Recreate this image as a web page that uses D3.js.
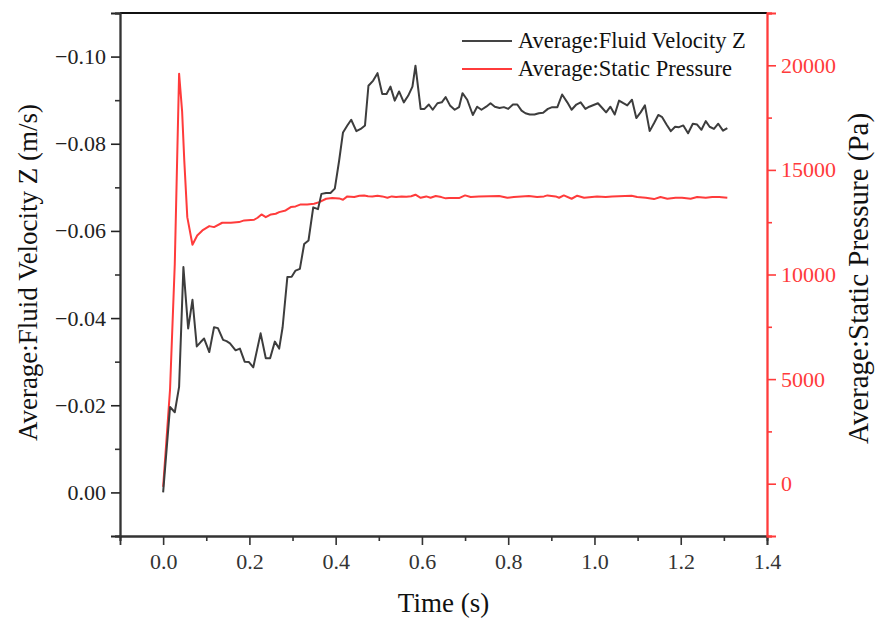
<!DOCTYPE html>
<html>
<head>
<meta charset="utf-8">
<script src="https://cdn.jsdelivr.net/npm/d3@7"></script>
<style>
  body { margin: 0; background: #fff; }
  svg text { font-family: "Liberation Serif", "Times New Roman", serif; }
</style>
</head>
<body>
<svg id="chart" width="875" height="620"></svg>
<script>
/*** DATA ***/
// Average:Fluid Velocity Z (m/s)
const velTime = [0.000, 0.016, 0.027, 0.037, 0.047, 0.058, 0.068, 0.078, 0.087, 0.095,
  0.107, 0.118, 0.127, 0.139, 0.147, 0.155, 0.168, 0.178, 0.189, 0.199,
  0.209, 0.226, 0.238, 0.248, 0.259, 0.269, 0.277, 0.288, 0.298, 0.307,
  0.317, 0.327, 0.337, 0.348, 0.359, 0.367, 0.378, 0.388, 0.398, 0.408,
  0.417, 0.427, 0.436, 0.448, 0.458, 0.468, 0.476, 0.487, 0.497, 0.508,
  0.518, 0.527, 0.537, 0.547, 0.558, 0.568, 0.578, 0.585, 0.597, 0.606,
  0.616, 0.625, 0.636, 0.646, 0.655, 0.665, 0.676, 0.686, 0.694, 0.705,
  0.718, 0.728, 0.738, 0.749, 0.759, 0.769, 0.780, 0.790, 0.800, 0.811,
  0.821, 0.831, 0.840, 0.850, 0.861, 0.871, 0.881, 0.892, 0.902, 0.914,
  0.925, 0.937, 0.947, 0.958, 0.968, 0.979, 0.988, 0.998, 1.008, 1.018,
  1.027, 1.037, 1.047, 1.057, 1.067, 1.076, 1.087, 1.097, 1.107, 1.117,
  1.128, 1.138, 1.148, 1.157, 1.167, 1.177, 1.187, 1.196, 1.206, 1.217,
  1.228, 1.238, 1.248, 1.258, 1.267, 1.277, 1.287, 1.298, 1.308];
const velocity = [0.0000, -0.0196, -0.0184, -0.0242, -0.0517, -0.0376, -0.0442, -0.0335, -0.0345, -0.0353,
  -0.0322, -0.0379, -0.0377, -0.0350, -0.0347, -0.0342, -0.0326, -0.0330, -0.0300, -0.0299,
  -0.0287, -0.0365, -0.0308, -0.0308, -0.0346, -0.0330, -0.0379, -0.0494, -0.0495, -0.0509,
  -0.0513, -0.0570, -0.0578, -0.0654, -0.0650, -0.0685, -0.0687, -0.0687, -0.0697, -0.0761,
  -0.0826, -0.0842, -0.0855, -0.0829, -0.0834, -0.0842, -0.0933, -0.0945, -0.0962, -0.0914,
  -0.0914, -0.0931, -0.0899, -0.0920, -0.0895, -0.0910, -0.0931, -0.0979, -0.0880, -0.0880,
  -0.0890, -0.0878, -0.0893, -0.0895, -0.0907, -0.0888, -0.0878, -0.0884, -0.0916, -0.0901,
  -0.0866, -0.0885, -0.0878, -0.0885, -0.0893, -0.0885, -0.0882, -0.0884, -0.0880, -0.0890,
  -0.0890, -0.0876, -0.0870, -0.0867, -0.0867, -0.0870, -0.0871, -0.0880, -0.0884, -0.0884,
  -0.0913, -0.0895, -0.0878, -0.0890, -0.0895, -0.0880, -0.0885, -0.0889, -0.0893, -0.0882,
  -0.0872, -0.0885, -0.0867, -0.0899, -0.0893, -0.0888, -0.0901, -0.0859, -0.0872, -0.0888,
  -0.0829, -0.0847, -0.0866, -0.0861, -0.0844, -0.0829, -0.0839, -0.0838, -0.0842, -0.0824,
  -0.0846, -0.0844, -0.0832, -0.0852, -0.0839, -0.0834, -0.0846, -0.0830, -0.0836];

// Average:Static Pressure (Pa)
const presTime = [0.000, 0.016, 0.027, 0.037, 0.044, 0.049, 0.056, 0.068, 0.079, 0.091,
  0.107, 0.118, 0.137, 0.157, 0.176, 0.188, 0.211, 0.219, 0.228, 0.238,
  0.250, 0.261, 0.269, 0.284, 0.296, 0.307, 0.319, 0.334, 0.350, 0.362,
  0.378, 0.392, 0.408, 0.417, 0.427, 0.443, 0.455, 0.466, 0.475, 0.485,
  0.497, 0.508, 0.520, 0.530, 0.540, 0.553, 0.564, 0.575, 0.585, 0.597,
  0.610, 0.620, 0.632, 0.645, 0.655, 0.663, 0.686, 0.700, 0.713, 0.732,
  0.779, 0.798, 0.813, 0.848, 0.867, 0.883, 0.891, 0.910, 0.918, 0.929,
  0.947, 0.960, 0.976, 1.006, 1.026, 1.041, 1.086, 1.099, 1.119, 1.138,
  1.153, 1.169, 1.188, 1.203, 1.223, 1.238, 1.258, 1.273, 1.289, 1.308];
const pressure = [-150, 4500, 10500, 19600, 17800, 15455, 12742, 11422, 11867, 12106,
  12313, 12265, 12474, 12474, 12505, 12585, 12617, 12713, 12872, 12742,
  12872, 12905, 12982, 13062, 13222, 13254, 13350, 13350, 13382, 13461,
  13621, 13652, 13637, 13573, 13733, 13700, 13760, 13781, 13740, 13733,
  13760, 13733, 13668, 13733, 13700, 13733, 13720, 13740, 13814, 13668,
  13733, 13668, 13750, 13700, 13640, 13653, 13653, 13781, 13701, 13733,
  13749, 13669, 13701, 13749, 13701, 13733, 13781, 13733, 13669, 13781,
  13621, 13765, 13669, 13733, 13701, 13733, 13765, 13701, 13669, 13605,
  13701, 13621, 13669, 13669, 13621, 13701, 13669, 13701, 13701, 13669];

// ticks
const xTicks = [0.0, 0.2, 0.4, 0.6, 0.8, 1.0, 1.2, 1.4];
const xMinor = [-0.1, 0.1, 0.3, 0.5, 0.7, 0.9, 1.1, 1.3];
const velTicks = [0.00, -0.02, -0.04, -0.06, -0.08, -0.10];
const velMinor = [0.01, -0.01, -0.03, -0.05, -0.07, -0.09, -0.11];
const presTicks = [0, 5000, 10000, 15000, 20000];
const presMinor = [-2500, 2500, 7500, 12500, 17500, 22500];

const legendItems = [
  { label: "Average:Fluid Velocity Z", color: "#444" },
  { label: "Average:Static Pressure", color: "#ff3b3b" }
];

/*** LAYOUT ***/
const margin = { left: 120, right: 108, top: 13, bottom: 84 };
const WIDTH = 875, HEIGHT = 620;
const BLACK = "#3d3d3d", RED = "#ff3b3b";

const svg = d3.select("#chart");

const x = d3.scaleLinear().domain([-0.1, 1.4]).range([margin.left, WIDTH - margin.right]);
const yVel = d3.scaleLinear().domain([0.01, -0.11]).range([HEIGHT - margin.bottom, margin.top]);
const yPres = d3.scaleLinear().domain([-2500, 22500]).range([HEIGHT - margin.bottom, margin.top]);

const x0 = x.range()[0], x1 = x.range()[1];
const yb = yVel.range()[0], yt = yVel.range()[1];

// frame (top line)
svg.append("line")
  .attr("x1", x0).attr("x2", x1).attr("y1", yt).attr("y2", yt)
  .attr("stroke", "#111").attr("stroke-width", 1.8);

function styleAxis(g, color, fs) {
  g.select(".domain").attr("stroke", color).attr("stroke-width", 1.8);
  g.selectAll(".tick line").attr("stroke", color).attr("stroke-width", 1.6);
  g.selectAll(".tick text")
    .attr("fill", color)
    .style("font-size", fs + "px")
    .style("font-family", "Liberation Serif, serif");
}

// bottom axis
const gx = svg.append("g").attr("transform", `translate(0,${yb})`)
  .call(d3.axisBottom(x).tickValues(xTicks).tickFormat(d3.format(".1f")).tickSize(9).tickPadding(8));
styleAxis(gx, "#333", 22);
const gxm = svg.append("g").attr("transform", `translate(0,${yb})`)
  .call(d3.axisBottom(x).tickValues(xMinor).tickFormat("").tickSize(5));
styleAxis(gxm, "#333", 22);

// left axis
const gy = svg.append("g").attr("transform", `translate(${x0},0)`)
  .call(d3.axisLeft(yVel).tickValues(velTicks).tickFormat(d3.format(".2f")).tickSize(9).tickPadding(5));
styleAxis(gy, "#222", 22);
const gym = svg.append("g").attr("transform", `translate(${x0},0)`)
  .call(d3.axisLeft(yVel).tickValues(velMinor).tickFormat("").tickSize(5));
styleAxis(gym, "#333", 22);

// right axis
const gr = svg.append("g").attr("transform", `translate(${x1},0)`)
  .call(d3.axisRight(yPres).tickValues(presTicks).tickFormat(d3.format("d")).tickSize(9).tickPadding(5));
styleAxis(gr, RED, 22);
const grm = svg.append("g").attr("transform", `translate(${x1},0)`)
  .call(d3.axisRight(yPres).tickValues(presMinor).tickFormat("").tickSize(5));
styleAxis(grm, RED, 22);

// lines
const velLine = d3.line().x((d, i) => x(velTime[i])).y(d => yVel(d));
const presLine = d3.line().x((d, i) => x(presTime[i])).y(d => yPres(d));

svg.append("path").datum(pressure)
  .attr("d", presLine).attr("fill", "none")
  .attr("stroke", RED).attr("stroke-width", 2).attr("stroke-linejoin", "round");

svg.append("path").datum(velocity)
  .attr("d", velLine).attr("fill", "none")
  .attr("stroke", BLACK).attr("stroke-width", 2).attr("stroke-linejoin", "round");

// axis titles
svg.append("text")
  .attr("transform", `translate(37,${(yt + yb) / 2 - 2}) rotate(-90)`)
  .attr("text-anchor", "middle")
  .style("font-size", "27px").attr("fill", "#111")
  .text("Average:Fluid Velocity Z (m/s)");

svg.append("text")
  .attr("transform", `translate(868,${(yt + yb) / 2 + 4}) rotate(-90)`)
  .attr("text-anchor", "middle")
  .style("font-size", "29px").attr("fill", "#111")
  .text("Average:Static Pressure (Pa)");

svg.append("text")
  .attr("x", (x0 + x1) / 2).attr("y", 612)
  .attr("text-anchor", "middle")
  .style("font-size", "27px").attr("fill", "#111")
  .text("Time (s)");

// legend
const lg = svg.append("g").selectAll("g").data(legendItems).join("g")
  .attr("transform", (d, i) => `translate(462,${41 + i * 28})`);
lg.append("line").attr("x1", 0).attr("x2", 50).attr("y1", 0).attr("y2", 0)
  .attr("stroke", d => d.color).attr("stroke-width", 1.8);
lg.append("text").attr("x", 56).attr("y", 7)
  .style("font-size", "22.5px").attr("fill", "#111")
  .text(d => d.label);
</script>
</body>
</html>
